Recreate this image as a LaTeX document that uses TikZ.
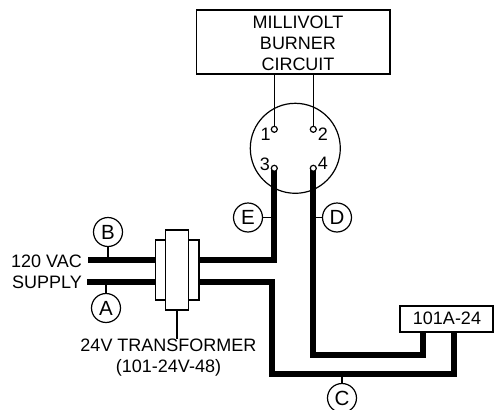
\documentclass[tikz,border=0pt]{standalone}
\usepackage{fontspec}
\setmainfont{Liberation Sans}
\tikzset{
  thin wire/.style={line width=1.2pt,black},
  thick wire/.style={line width=6pt,black,line join=miter},
  boxed/.style={draw=black,line width=1.2pt,fill=white,inner sep=0pt,outer sep=0pt,minimum width=#1},
  pin/.style={circle,draw=black,line width=1.2pt,fill=white,inner sep=0pt,minimum size=6pt,outer sep=0pt},
  tag/.style={circle,draw=black,line width=1.2pt,fill=white,inner sep=0pt,minimum size=29pt,outer sep=0pt,font=\fontsize{20.5}{20.5}\selectfont},
  label/.style={inner sep=0pt,font=\fontsize{18}{21}\selectfont,align=center},
  small label/.style={inner sep=0pt,font=\fontsize{18}{21}\selectfont,align=center},
  jack/.style={circle,draw=black,line width=1.2pt,inner sep=0pt,minimum size=90pt,outer sep=0pt}
}
\begin{document}
\begin{tikzpicture}[x=1pt,y=-1pt]
\useasboundingbox (0,0) rectangle (499,410);
% burner box
\node[boxed=193.5pt,minimum height=64pt,anchor=center] (burner) at (293.25,42) {};
\node[label] (burnertext) at (298,43) {MILLIVOLT\\BURNER\\CIRCUIT};
% connector
\node[jack] (jack) at (295.3,148.3) {};
\coordinate (top1) at (274.3,74);
\coordinate (top2) at (313.3,74);
\node[pin] (p1) at (274.3,129.3) {};
\node[pin] (p2) at (313.3,129.3) {};
\draw[thin wire] (top1) -- (p1);
\draw[thin wire] (top2) -- (p2);
\node[small label] (n1) at (265.7,134) {1};
\node[small label] (n2) at (323,134) {2};
\node[small label] (n3) at (265,164) {3};
\node[small label] (n4) at (323,163.5) {4};
% transformer
\node[boxed=43.7pt,minimum height=60pt] (coil) at (177.2,270) {};
\node[boxed=22.6pt,minimum height=80pt] (core) at (177,270) {};
% relay box
\node[boxed=93pt,minimum height=26pt] (relay) at (446.5,319) {};
\node[small label] (relaytext) at (447,318.5) {101A-24};
% supply side
\coordinate (inB) at (88,260);
\coordinate (inA) at (87,282.3);
\coordinate (coilBl) at (155.3,260);
\coordinate (coilAl) at (155.3,282.3);
\coordinate (coilBr) at (199,260);
\coordinate (coilAr) at (199,282.3);
\coordinate (p3pos) at (274.3,168.3);
\coordinate (p4pos) at (313.3,168.3);
\draw[thick wire] (inB) -- (coilBl);
\draw[thick wire] (inA) -- (coilAl);
% thick wires
\coordinate (relayL) at (423,332);
\coordinate (relayR) at (454,332);
\draw[thick wire] (coilBr) -| (p3pos);
\draw[thick wire] (p4pos) -- (313.3,355) -- (423,355) -- (relayL);
\draw[thick wire] (coilAr) -- (272,282.3) -- (272,374) -- (454,374) -- (relayR);
\node[pin] (p3) at (p3pos) {};
\node[pin] (p4) at (p4pos) {};
% tags
\node[tag] (B) at (108,232) {B};
\node[tag] (A) at (106,308) {A};
\node[tag] (E) at (248,217.5) {E};
\node[tag] (D) at (337,217.5) {D};
\node[tag] (C) at (342,398) {C};
\draw[thin wire] (B) -- (108,258);
\draw[thin wire] (A) -- (106,284);
\draw[thin wire] (E) -- (272,217.5);
\draw[thin wire] (D) -- (315,217.5);
\draw[thin wire] (C) -- (342,376);
% labels
\node[small label,anchor=east] (vac) at (82,261) {120 VAC};
\node[small label,anchor=east] (sup) at (82,282) {SUPPLY};
\node[label] (tr) at (168.5,358) {24V TRANSFORMER\\(101-24V-48)};
\draw[thin wire] (core) -- (tr.north -| core);
\end{tikzpicture}
\end{document}
